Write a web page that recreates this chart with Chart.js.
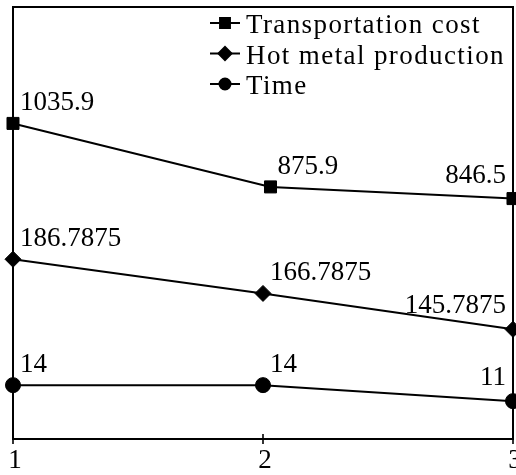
<!DOCTYPE html>
<html>
<head>
<meta charset="utf-8">
<script src="https://cdn.jsdelivr.net/npm/chart.js@4/dist/chart.umd.min.js"></script>
<style>
  html, body { margin: 0; padding: 0; background: #fff; }
  #wrap { width: 516px; height: 475px; }
</style>
</head>
<body>
<div id="wrap"><canvas id="c"></canvas></div>
<script>
// Scenario numbers along the x axis
const scenarios = [1, 2, 3];
// The cost series sits a little right of the second scenario
const costX = [1, 2.03, 3];
const xTicks = [1, 2, 3];

// Series values
const transportationCost = [1035.9, 875.9, 846.5];
const hotMetalProduction = [186.7875, 166.7875, 145.7875];
const timeValues = [14, 14, 11];

const seriesNames = ['Transportation cost', 'Hot metal production', 'Time'];

const SERIF = '"Liberation Serif", "Times New Roman", serif';

const toPoints = (xs, ys) => xs.map((x, i) => ({ x, y: ys[i] }));

// Box around the plot area, x tick marks crossing the axis and their labels
const frame = {
  id: 'frame',
  afterDraw(chart) {
    const { ctx, chartArea: a } = chart;
    const xs = chart.scales.x;
    ctx.save();
    ctx.strokeStyle = '#000';
    ctx.fillStyle = '#000';
    ctx.lineWidth = 2;
    ctx.strokeRect(a.left, a.top, a.right - a.left, a.bottom - a.top);
    ctx.lineWidth = 1.6;
    ctx.font = `27px ${SERIF}`;
    ctx.textAlign = 'center';
    ctx.textBaseline = 'alphabetic';
    xTicks.forEach(v => {
      const px = Math.round(xs.getPixelForValue(v));
      ctx.beginPath();
      ctx.moveTo(px, a.bottom - 5);
      ctx.lineTo(px, a.bottom + 5);
      ctx.stroke();
      ctx.fillText(String(v), px + 2, a.bottom + 29);
    });
    ctx.restore();
  }
};

// Value written beside every marker
const valueLabels = {
  id: 'valueLabels',
  afterDatasetsDraw(chart) {
    const ctx = chart.ctx;
    ctx.save();
    ctx.font = `27px ${SERIF}`;
    ctx.fillStyle = '#000';
    ctx.textBaseline = 'alphabetic';
    chart.data.datasets.forEach((ds, di) => {
      const meta = chart.getDatasetMeta(di);
      meta.data.forEach((pt, i) => {
        const last = i === meta.data.length - 1;
        ctx.textAlign = last ? 'right' : 'left';
        ctx.fillText(String(ds.data[i].y), pt.x + (last ? -7 : 7), pt.y - (last ? 16 : 13));
      });
    });
    ctx.restore();
  }
};

// Legend in the upper right corner of the plot area
const cornerLegend = {
  id: 'cornerLegend',
  afterDraw(chart) {
    const { ctx, chartArea: a } = chart;
    const lineStart = a.right - 303;
    const lineEnd = lineStart + 30;
    const textX = lineEnd + 6;
    ctx.save();
    ctx.font = `27px ${SERIF}`;
    ctx.fillStyle = '#000';
    ctx.strokeStyle = '#000';
    ctx.textAlign = 'left';
    ctx.textBaseline = 'alphabetic';
    if ('letterSpacing' in ctx) ctx.letterSpacing = '1.4px';
    chart.data.datasets.forEach((ds, i) => {
      const y = a.top + 16 + i * 30.5;
      ctx.lineWidth = 2;
      ctx.beginPath();
      ctx.moveTo(lineStart, y);
      ctx.lineTo(lineEnd, y);
      ctx.stroke();
      Chart.helpers.drawPoint(ctx, {
        pointStyle: ds.pointStyle,
        radius: ds.legendRadius,
        borderWidth: 1
      }, (lineStart + lineEnd) / 2, y);
      ctx.fill();
      ctx.fillText(ds.label, textX, y + 10);
    });
    ctx.restore();
  }
};

const lineStyle = {
  borderColor: '#000',
  backgroundColor: '#000',
  pointBackgroundColor: '#000',
  pointBorderColor: '#000',
  borderWidth: 2,
  pointBorderWidth: 1,
  tension: 0,
  clip: false
};

new Chart(document.getElementById('c'), {
  type: 'line',
  data: {
    datasets: [
      Object.assign({}, lineStyle, {
        label: seriesNames[0],
        data: toPoints(costX, transportationCost),
        yAxisID: 'yCost',
        pointStyle: 'rect',
        pointRadius: 8.5,
        legendRadius: 7
      }),
      Object.assign({}, lineStyle, {
        label: seriesNames[1],
        data: toPoints(scenarios, hotMetalProduction),
        yAxisID: 'yHot',
        pointStyle: 'rectRot',
        pointRadius: 8,
        legendRadius: 6.5
      }),
      Object.assign({}, lineStyle, {
        label: seriesNames[2],
        data: toPoints(scenarios, timeValues),
        yAxisID: 'yTime',
        pointStyle: 'circle',
        pointRadius: 7.5,
        legendRadius: 5.5
      })
    ]
  },
  options: {
    responsive: true,
    maintainAspectRatio: false,
    animation: false,
    events: [],
    layout: { autoPadding: false, padding: { left: 13, right: 3, top: 7, bottom: 36 } },
    plugins: {
      legend: { display: false },
      tooltip: { enabled: false }
    },
    scales: {
      x: { type: 'linear', display: false, min: 1, max: 3 },
      // each series is drawn against its own hidden value axis
      yCost: { type: 'linear', display: false, min: 240.6, max: 1329.3 },
      yHot: { type: 'linear', display: false, min: 81.6, max: 334.4 },
      yTime: { type: 'linear', display: false, min: 3.9, max: 84.9 }
    }
  },
  plugins: [frame, valueLabels, cornerLegend]
});
</script>
</body>
</html>
